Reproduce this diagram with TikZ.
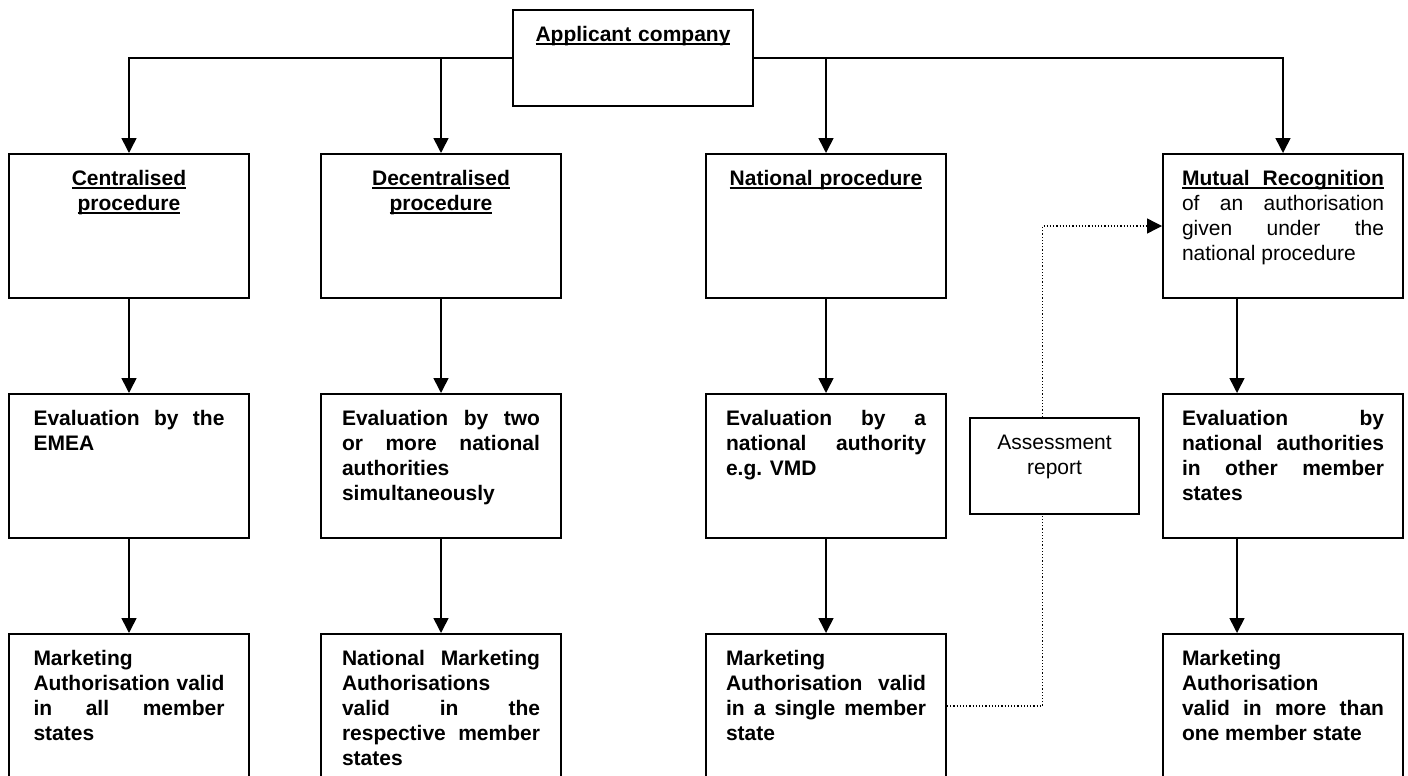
\documentclass[tikz,border=0pt]{standalone}
\usepackage{fontspec}
\setmainfont{Liberation Sans}
\usetikzlibrary{arrows.meta}

% underline drawn at a fixed depth below the baseline
\newcommand{\uword}[1]{\leavevmode\setbox0=\hbox{#1}\rlap{\rule[-1.8pt]{\wd0}{0.9pt}}\box0}

\begin{document}
\begin{tikzpicture}
  [
    x = 0.5pt, y = -0.5pt,
    every node/.style = {font=\fontsize{10.5}{12.5}\selectfont},
    proc/.style = {draw, line width=1pt, minimum width=120pt,
      inner xsep=0pt, inner ysep=0pt, text width=#1, align=justify,
      text height=15.5pt, text depth=56.5pt},
    last/.style = {text depth=59.5pt},
    link/.style = {line width=0.8pt, -{Triangle[width=7.5pt,length=7.5pt]}},
    report/.style = {line width=0.7pt, dash pattern=on 0.6pt off 1pt}
  ]
  \clip (0,0) rectangle (1408,776);

  % top
  \node [proc=100pt, align=center, text depth=32.5pt, anchor=north] (app) at (633,9)
    {\bfseries\uword{Applicant company}};

  % procedures
  \node [proc=95.5pt, align=center, anchor=north] (cen) at (129,153)
    {\bfseries\uword{Centralised}\\\uword{procedure}};
  \node [proc=99pt, align=center, anchor=north] (dec) at (441,153)
    {\bfseries\uword{Decentralised}\\\uword{procedure}};
  \node [proc=100pt, align=center, anchor=north] (nat) at (826,153)
    {\bfseries\uword{National procedure}};
  \node [proc=101pt, anchor=north] (mut) at (1283,153)
    {{\bfseries\uword{\makebox[\linewidth][s]{Mutual Recognition}}}\\
     of an authorisation\linebreak given under the\linebreak national procedure};

  % evaluation
  \node [proc=95.5pt, anchor=north, font=\fontsize{10.5}{12.5}\selectfont\bfseries] (cen-eval) at (129,393)
    {Evaluation by the\linebreak EMEA};
  \node [proc=99pt, anchor=north, font=\fontsize{10.5}{12.5}\selectfont\bfseries] (dec-eval) at (441,393)
    {Evaluation by two\linebreak or more national\linebreak authorities\\simultaneously};
  \node [proc=100pt, anchor=north, font=\fontsize{10.5}{12.5}\selectfont\bfseries] (nat-eval) at (826,393)
    {Evaluation by a\linebreak national authority\linebreak e.g. VMD};
  \node [proc=101pt, anchor=north, font=\fontsize{10.5}{12.5}\selectfont\bfseries] (mut-eval) at (1283,393)
    {Evaluation by\linebreak national authorities\linebreak in other member\linebreak states};

  % authorisations
  \node [proc=95.5pt, last, anchor=north, font=\fontsize{10.5}{12.5}\selectfont\bfseries] (cen-auth) at (129,633)
    {Marketing\\Authorisation valid\linebreak in all member\linebreak states};
  \node [proc=99pt, last, anchor=north, font=\fontsize{10.5}{12.5}\selectfont\bfseries] (dec-auth) at (441,633)
    {National Marketing\linebreak Authorisations\\valid in the\linebreak respective member\linebreak states};
  \node [proc=100pt, last, anchor=north, font=\fontsize{10.5}{12.5}\selectfont\bfseries] (nat-auth) at (826,633)
    {Marketing\\Authorisation valid\linebreak in a single member\linebreak state};
  \node [proc=101pt, last, anchor=north, font=\fontsize{10.5}{12.5}\selectfont\bfseries] (mut-auth) at (1283,633)
    {Marketing\\Authorisation\\valid in more than\linebreak one member state};

  % report
  \node [proc=80pt, minimum width=84.5pt, align=center, text depth=32.5pt, anchor=north] (asr) at (1054.5,417)
    {Assessment\\report};

  % connectors
  \draw [link] (app.west) -| (cen.north);
  \draw [link] (dec.north |- app.west) -- (dec.north);
  \draw [link] (app.east) -| (mut.north);
  \draw [link] (nat.north |- app.east) -- (nat.north);
  \foreach \c in {cen, dec, nat} {
    \draw [link] (\c.south) -- (\c-eval.north);
    \draw [link] (\c-eval.south) -- (\c-auth.north);
  }
  \draw [link] ([xshift=-23pt]mut.south) -- ([xshift=-23pt]mut-eval.north);
  \draw [link] ([xshift=-23pt]mut-eval.south) -- ([xshift=-23pt]mut-auth.north);

  \draw [report] ([yshift=1.5pt]nat-auth.east) -| ([xshift=-6pt]asr.south);
  \draw [report, -{Triangle[width=7.5pt,length=7.5pt]}] ([xshift=-6pt]asr.north) |- (mut.west);
\end{tikzpicture}
\end{document}
